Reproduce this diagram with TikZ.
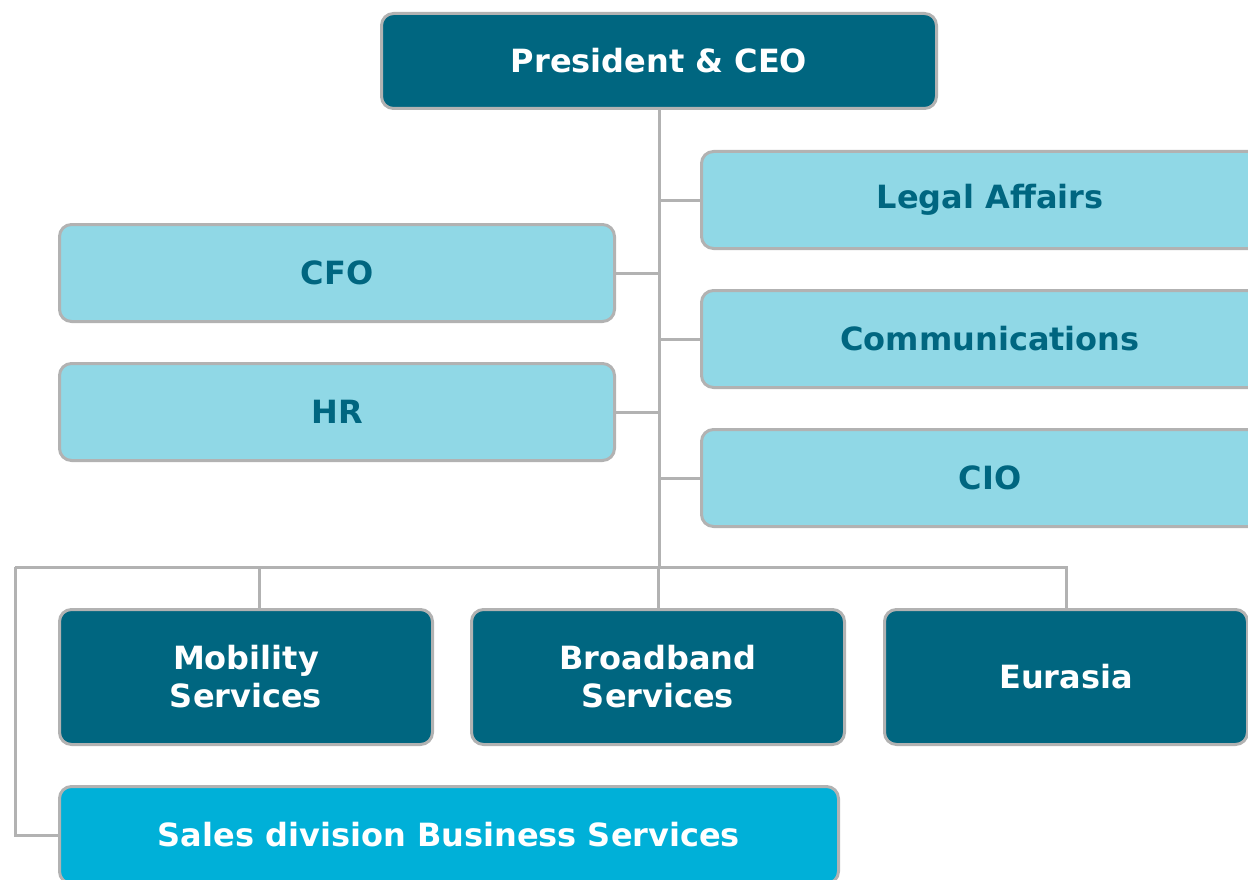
\documentclass[tikz,border=0pt]{standalone}
\usepackage{fontspec}
\setmainfont{DejaVu Sans}
\usetikzlibrary{positioning}
\definecolor{darkbox}{RGB}{0,102,128}
\definecolor{lightbox}{RGB}{144,216,230}
\definecolor{salesfill}{RGB}{0,176,216}
\definecolor{linegray}{RGB}{178,178,178}
\tikzstyle{box} = [draw=linegray, line width=3pt, rounded corners=12pt, rectangle, align=center, font=\fontsize{32}{38}\selectfont\bfseries]
\tikzstyle{boss} = [box, fill=darkbox, text=white, minimum height=95pt, minimum width=555pt]
\tikzstyle{staff} = [box, fill=lightbox, text=darkbox, minimum height=97pt, minimum width=555pt]
\tikzstyle{unit} = [box, fill=darkbox, text=white, minimum height=135pt, minimum width=373pt]
\tikzstyle{salesbox} = [box, fill=salesfill, text=white, minimum height=97pt, minimum width=779pt]
\tikzstyle{link} = [draw=linegray, line width=3pt]

\begin{document}
\begin{tikzpicture}[x=1pt, y=-1pt, node distance=139pt]
        \path [use as bounding box, clip] (0,0) rectangle (1248,880);

        \node [boss] (ceo) at (659,61) {President \& CEO};

        \node [staff, minimum width=577pt] (legal) at (990,200) {Legal Affairs};
        \node [staff, minimum width=577pt, below of=legal] (comm) {Communications};
        \node [staff, minimum width=577pt, below of=comm] (cio) {CIO};

        \node [staff] (cfo) at (337,273) {CFO};
        \node [staff, below of=cfo] (hr) {HR};

        \node [unit] (mob) at (246,677) {Mobility\\Services};
        \node [unit, right of=mob, node distance=412pt] (broad) {Broadband\\Services};
        \node [unit, minimum width=363pt, right of=broad, node distance=408pt] (eur) {Eurasia};

        \node [salesbox] (sales) at (449,835) {Sales division Business Services};

        \coordinate (bus) at (659,567);
        \coordinate (busL) at (15,567);
        \coordinate (mobtop) at ([xshift=13pt]mob.north);

        \draw [link] (ceo.south) -- (bus);
        \draw [link] (legal.west) -- (legal.west -| bus);
        \draw [link] (comm.west) -- (comm.west -| bus);
        \draw [link] (cio.west) -- (cio.west -| bus);
        \draw [link] (cfo.east) -- (cfo.east -| bus);
        \draw [link] (hr.east) -- (hr.east -| bus);

        \draw [link] (busL) -- (eur.north |- bus) -- (eur.north);
        \draw [link] (mobtop) -- (mobtop |- bus);
        \draw [link] (broad.north) -- (broad.north |- bus);
        \draw [link] (busL) |- (sales.west);
\end{tikzpicture}
\end{document}
